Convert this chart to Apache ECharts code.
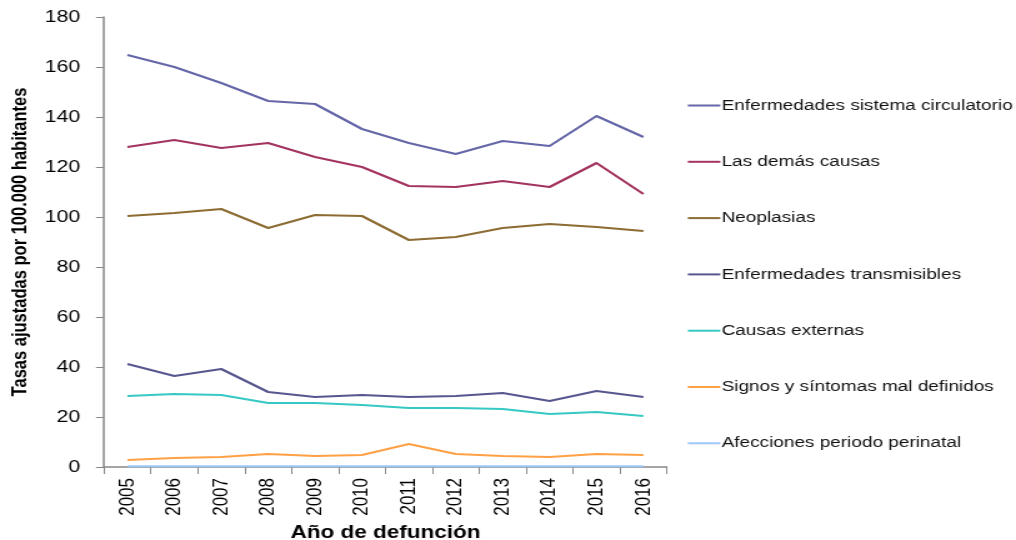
<!DOCTYPE html>
<html><head><meta charset="utf-8">
<script src="https://cdn.jsdelivr.net/npm/echarts@6/dist/echarts.min.js"></script>
<style>html,body{margin:0;padding:0;background:#fff;overflow:hidden}
#wrap{width:1016px;height:540px;overflow:hidden}
#c{width:813px;height:540px;transform:scaleX(1.2497);transform-origin:0 0}</style>
</head><body><div id="wrap"><div id="c"></div></div>
<script>
const years = ['2005','2006','2007','2008','2009','2010','2011','2012','2013','2014','2015','2016'];
const circulatorio = [164.8,160,153.6,146.4,145.2,135.2,129.6,125.2,130.4,128.4,140.4,132];
const demas = [128,130.8,127.6,129.6,124,120,112.4,112,114.4,112,121.6,109.2];
const neoplasias = [100.4,101.6,103.2,95.6,100.8,100.4,90.8,92,95.6,97.2,96,94.4];
const transmisibles = [41.2,36.4,39.2,30,28,28.8,28,28.4,29.6,26.4,30.4,28];
const externas = [28.4,29.2,28.8,25.6,25.6,24.8,23.6,23.6,23.2,21.2,22,20.4];
const signos = [2.8,3.6,4,5.2,4.4,4.8,9.2,5.2,4.4,4,5.2,4.8];
const perinatal = [0.3,0.3,0.3,0.3,0.3,0.3,0.3,0.3,0.3,0.3,0.3,0.3];
const names = ['Enfermedades sistema circulatorio','Las demás causas','Neoplasias','Enfermedades transmisibles','Causas externas','Signos y síntomas mal definidos','Afecciones periodo perinatal'];
const datasets = [circulatorio,demas,neoplasias,transmisibles,externas,signos,perinatal];
const colors = ['#6466a8','#a3335f','#8c6c33','#57568f','#36c8c4','#ffa045','#9dc7f7'];
const FONT = 'Liberation Sans, Arial, sans-serif';

const chart = echarts.init(document.getElementById('c'));
chart.setOption({
  animation:false,
  grid:{left:83.2,right:279.4,top:17,bottom:73,containLabel:false,outerBoundsMode:'none'},
  legend:{
    orient:'vertical', left:550.4, top:98, padding:0, itemGap:41.3, itemWidth:26, itemHeight:12,
    icon:'path://M0,5 L26,5 L26,7 L0,7 Z',
    textStyle:{fontFamily:FONT,fontSize:15.2,color:'#111',padding:[0,0,0,-4]},
    data:names.map((n,i)=>({name:n,itemStyle:{color:colors[i]}}))
  },
  xAxis:{
    type:'category', data:years, boundaryGap:true,
    axisLine:{lineStyle:{color:'#888',width:1.5}},
    axisTick:{show:true,length:7,lineStyle:{color:'#888'}},
    axisLabel:{rotate:90,fontFamily:FONT,fontSize:17,color:'#000',margin:11},
    name:'Año de defunción', nameLocation:'middle', nameGap:55,
    nameTextStyle:{fontFamily:FONT,fontSize:18,fontWeight:'bold',color:'#000'}
  },
  yAxis:{
    type:'value', min:0, max:180, interval:20,
    splitLine:{show:false},
    axisLine:{show:true,lineStyle:{color:'#888',width:1.5}},
    axisTick:{show:true,length:6.4,lineStyle:{color:'#888'}},
    axisLabel:{fontFamily:FONT,fontSize:17,color:'#000',margin:19},
    name:'Tasas ajustadas por 100.000 habitantes', nameLocation:'middle', nameRotate:90, nameGap:56,
    nameTextStyle:{fontFamily:FONT,fontSize:16.5,fontWeight:'bold',color:'#000'}
  },
  series:datasets.map((d,i)=>({
    name:names[i], type:'line', data:d, symbol:'none',
    lineStyle:{color:colors[i],width:2.2}, itemStyle:{color:colors[i]}
  }))
});
</script></body></html>
